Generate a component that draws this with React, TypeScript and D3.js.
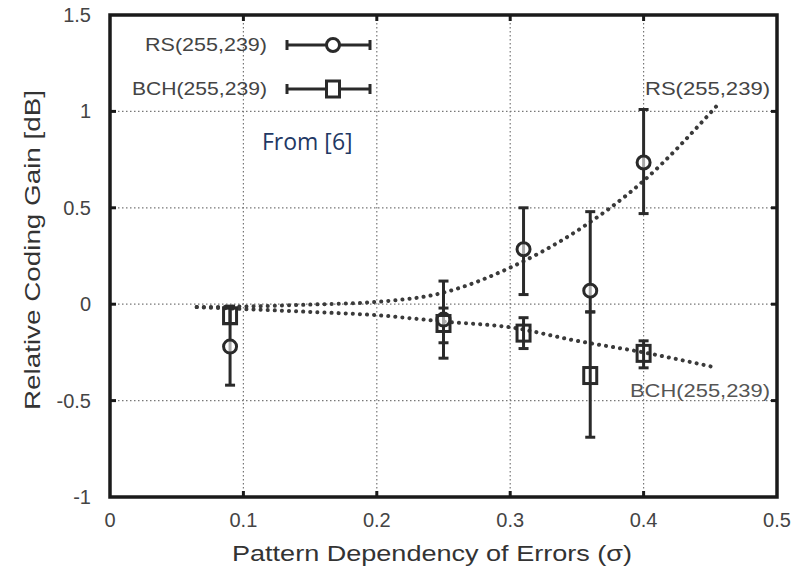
import React from "react";
import * as d3 from "d3";

// measured points (sigma, gain, err low, err high)
const rsX = [0.09, 0.25, 0.31, 0.36, 0.4];
const rsY = [-0.22, -0.08, 0.285, 0.07, 0.735];
const rsLo = [-0.42, -0.28, 0.05, -0.04, 0.47];
const rsHi = [-0.02, 0.12, 0.5, 0.48, 1.01];

const bchX = [0.09, 0.25, 0.31, 0.36, 0.4];
const bchY = [-0.06, -0.1, -0.15, -0.37, -0.255];
const bchLo = [-0.1, -0.2, -0.23, -0.69, -0.33];
const bchHi = [-0.01, -0.02, -0.07, -0.04, -0.19];

// fitted curves
const rsFitX = [0.065, 0.1, 0.15, 0.2, 0.25, 0.3, 0.35, 0.4, 0.455];
const rsFitY = [-0.015, -0.012, -0.002, 0.012, 0.06, 0.19, 0.38, 0.64, 1.03];
const bchFitX = [0.065, 0.1, 0.15, 0.2, 0.25, 0.3, 0.35, 0.4, 0.455];
const bchFitY = [-0.015, -0.025, -0.04, -0.057, -0.09, -0.12, -0.19, -0.25, -0.33];

const xTicks = [0, 0.1, 0.2, 0.3, 0.4, 0.5];
const yTicks = [-1, -0.5, 0, 0.5, 1, 1.5];
const xTickLabels = ["0", "0.1", "0.2", "0.3", "0.4", "0.5"];
const yTickLabels = ["-1", "-0.5", "0", "0.5", "1", "1.5"];

export default function App() {
  const width = 803;
  const height = 577;
  const margin = { top: 15, left: 110 };

  const x = d3.scaleLinear().domain([0, 0.5]).range([0, 667]);
  const y = d3.scaleLinear().domain([-1, 1.5]).range([482, 0]);

  const line = d3
    .line<[number, number]>()
    .x((d) => x(d[0]))
    .y((d) => y(d[1]))
    .curve(d3.curveMonotoneX);

  const ink = "#2a2a2a";
  const font = "'Liberation Sans', Arial, sans-serif";

  const errBar = (xv: number, lo: number, hi: number, key: string) => (
    <g key={key} stroke={ink} strokeWidth={3}>
      <line x1={x(xv)} x2={x(xv)} y1={y(lo)} y2={y(hi)} />
      <line x1={x(xv) - 5} x2={x(xv) + 5} y1={y(lo)} y2={y(lo)} />
      <line x1={x(xv) - 5} x2={x(xv) + 5} y1={y(hi)} y2={y(hi)} />
    </g>
  );

  return (
    <svg width={width} height={height} style={{ position: "absolute", left: 0, top: 0, background: "#fff" }}>
      <g transform={`translate(${margin.left}, ${margin.top})`}>
        {/* grid */}
        {xTicks.slice(1, -1).map((t) => (
          <line key={"gx" + t} x1={x(t)} x2={x(t)} y1={0} y2={y(-1)} stroke="#777" strokeWidth={1.2} strokeDasharray="1.5 2.5" />
        ))}
        {yTicks.slice(1, -1).map((t) => (
          <line key={"gy" + t} x1={0} x2={x(0.5)} y1={y(t)} y2={y(t)} stroke="#777" strokeWidth={1.2} strokeDasharray="1.5 2.5" />
        ))}

        {/* fitted curves */}
        <path
          d={line(rsFitX.map((v, i) => [v, rsFitY[i]]) as [number, number][]) || ""}
          fill="none"
          stroke="#3a3a3a"
          strokeWidth={4}
          strokeDasharray="0.1 7"
          strokeLinecap="round"
        />
        <path
          d={line(bchFitX.map((v, i) => [v, bchFitY[i]]) as [number, number][]) || ""}
          fill="none"
          stroke="#3a3a3a"
          strokeWidth={4}
          strokeDasharray="0.1 7"
          strokeLinecap="round"
        />

        {/* error bars */}
        {rsX.map((v, i) => errBar(v, rsLo[i], rsHi[i], "rse" + i))}
        {bchX.map((v, i) => errBar(v, bchLo[i], bchHi[i], "bche" + i))}

        {/* markers */}
        {rsX.map((v, i) => (
          <circle key={"rs" + i} cx={x(v)} cy={y(rsY[i])} r={6.5} fill="#fff" fillOpacity={0.6} stroke={ink} strokeWidth={3} />
        ))}
        {bchX.map((v, i) => (
          <rect key={"bch" + i} x={x(v) - 6.5} y={y(bchY[i]) - 8} width={13} height={16} fill="none" stroke={ink} strokeWidth={3} />
        ))}

        {/* frame */}
        <rect x={0} y={0} width={x(0.5)} height={y(-1)} fill="none" stroke="#1a1a1a" strokeWidth={3.5} />
        {xTicks.slice(1, -1).map((t) => (
          <g key={"tx" + t} stroke="#1a1a1a" strokeWidth={3}>
            <line x1={x(t)} x2={x(t)} y1={y(-1)} y2={y(-1) - 6} />
            <line x1={x(t)} x2={x(t)} y1={0} y2={6} />
          </g>
        ))}
        {yTicks.slice(1, -1).map((t) => (
          <g key={"ty" + t} stroke="#1a1a1a" strokeWidth={3}>
            <line x1={0} x2={6} y1={y(t)} y2={y(t)} />
            <line x1={x(0.5)} x2={x(0.5) - 6} y1={y(t)} y2={y(t)} />
          </g>
        ))}

        {/* tick labels */}
        {xTicks.map((t, i) => (
          <text key={"lx" + t} x={x(t)} y={y(-1) + 30} textAnchor="middle" fontFamily={font} fontSize={20} fill="#444">
            {xTickLabels[i]}
          </text>
        ))}
        {yTicks.map((t, i) => (
          <text key={"ly" + t} x={-19} y={y(t) + 7} textAnchor="end" fontFamily={font} fontSize={20} fill="#444">
            {yTickLabels[i]}
          </text>
        ))}

        {/* legend */}
        <text x={157} y={36} textAnchor="end" fontFamily={font} fontSize={18} fill="#444" textLength={122} lengthAdjust="spacingAndGlyphs">RS(255,239)</text>
        <text x={157} y={80} textAnchor="end" fontFamily={font} fontSize={18} fill="#444" textLength={135} lengthAdjust="spacingAndGlyphs">BCH(255,239)</text>
        {[30, 74].map((ly, k) => (
          <g key={"leg" + k} stroke={ink} strokeWidth={3}>
            <line x1={177} x2={260} y1={ly} y2={ly} />
            <line x1={177} x2={177} y1={ly - 5} y2={ly + 5} />
            <line x1={260} x2={260} y1={ly - 5} y2={ly + 5} />
            {k === 0 ? (
              <circle cx={223} cy={ly} r={6.5} fill="#fff" />
            ) : (
              <rect x={216.5} y={ly - 8} width={13} height={16} fill="#fff" />
            )}
          </g>
        ))}

        {/* curve annotations */}
        <text x={x(0.5) - 7} y={80} textAnchor="end" fontFamily={font} fontSize={19} fill="#444" textLength={125} lengthAdjust="spacingAndGlyphs">RS(255,239)</text>
        <text x={x(0.5) - 7} y={382} textAnchor="end" fontFamily={font} fontSize={19} fill="#555" textLength={140} lengthAdjust="spacingAndGlyphs">BCH(255,239)</text>

        <text x={152} y={135} fontFamily="'Open Sans', 'Noto Sans', sans-serif" fontSize={23} fill="#1f3864">From [6]</text>
      </g>

      {/* axis titles */}
      <text x={432} y={561} textAnchor="middle" fontFamily={font} fontSize={22} fill="#333" textLength={400} lengthAdjust="spacingAndGlyphs">
        Pattern Dependency of Errors (σ)
      </text>
      <text transform="translate(40, 250) rotate(-90)" textAnchor="middle" fontFamily={font} fontSize={22} fill="#333" textLength={320} lengthAdjust="spacingAndGlyphs">
        Relative Coding Gain [dB]
      </text>
    </svg>
  );
}
